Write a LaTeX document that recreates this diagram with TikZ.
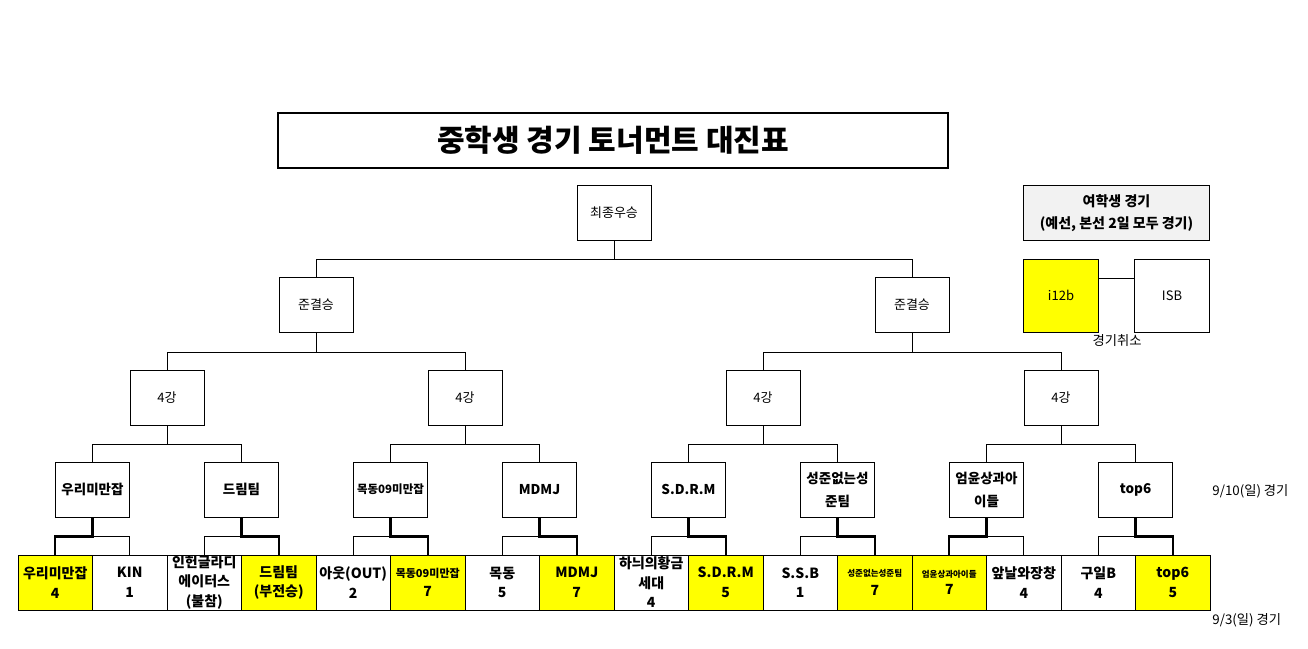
\documentclass[tikz,border=0pt]{standalone}
\usepackage{fontspec}
\setmainfont{Noto Sans CJK KR}
\definecolor{hl}{HTML}{FFFF00}
\definecolor{gbox}{HTML}{F2F2F2}
\begin{document}
\begin{tikzpicture}[x=1pt,y=-1pt,line width=0.8pt,
  box/.style={draw,minimum width=74pt,minimum height=55pt,inner sep=1pt,align=center,font=\fontsize{13}{17}\selectfont},
  rbox/.style={box,font=\bfseries\fontsize{13.5}{23}\selectfont},
  cell/.style={draw,minimum width=74.5pt,minimum height=55pt,inner sep=0pt,align=center,font=\bfseries\fontsize{14}{19.5}\selectfont},
  yel/.style={fill=hl},
  win/.style={line width=2.4pt},
  lbl/.style={inner sep=0pt,font=\fontsize{13.3}{15}\selectfont}]
\useasboundingbox (0,0) rectangle (1308,648);
% title
\node[draw,line width=2.4pt,minimum width=670pt,minimum height=55pt,inner sep=0pt,font=\bfseries\fontsize{30}{34}\selectfont] (title) at (613,140.5) {중학생 경기 토너먼트 대진표};
% final and semis
\node[box] (f) at (614,213) {최종우승};
\node[box] (s1) at (316,305) {준결승};
\node[box] (s2) at (912,305) {준결승};
% quarter
\node[box] (q1) at (167,397.5) {4강};
\node[box] (q2) at (465,397.5) {4강};
\node[box] (q3) at (763,397.5) {4강};
\node[box] (q4) at (1061,397.5) {4강};
% round of eight
\node[rbox] (r1) at (92.5,489.5) {우리미만잡};
\node[rbox] (r2) at (241.5,489.5) {드림팀};
\node[rbox,font=\bfseries\fontsize{11.5}{15}\selectfont] (r3) at (390.5,489.5) {목동09미만잡};
\node[rbox] (r4) at (539.5,489.5) {MDMJ};
\node[rbox] (r5) at (688.5,489.5) {S.D.R.M};
\node[rbox] (r6) at (837.5,489.5) {성준없는성\\준팀};
\node[rbox] (r7) at (986.5,489.5) {엄윤상과아\\이들};
\node[rbox] (r8) at (1135.5,489.5) {top6};
% first round cells
\node[cell,yel] (c1) at (55.25,582.5) {우리미만잡\\4};
\node[cell] (c2) at (129.75,582.5) {KIN\\1};
\node[cell] (c3) at (204.25,582.5) {인헌글라디\\에이터스\\(불참)};
\node[cell,yel] (c4) at (278.75,582.5) {드림팀\\(부전승)};
\node[cell] (c5) at (353.25,582.5) {아웃(OUT)\\2};
\node[cell,yel,font=\bfseries\fontsize{11}{19.5}\selectfont] (c6) at (427.75,582.5) {목동09미만잡\\\fontsize{14}{19.5}\selectfont 7};
\node[cell] (c7) at (502.25,582.5) {목동\\5};
\node[cell,yel] (c8) at (576.75,582.5) {MDMJ\\7};
\node[cell] (c9) at (651.25,582.5) {하늬의황금\\세대\\4};
\node[cell,yel] (c10) at (725.75,582.5) {S.D.R.M\\5};
\node[cell] (c11) at (800.25,582.5) {S.S.B\\1};
\node[cell,yel,font=\bfseries\fontsize{8.5}{19.5}\selectfont] (c12) at (874.75,582.5) {성준없는성준팀\\\fontsize{14}{19.5}\selectfont 7};
\node[cell,yel,font=\bfseries\fontsize{8.5}{17}\selectfont] (c13) at (949.25,582.5) {엄윤상과아이들\\\fontsize{14}{17}\selectfont 7};
\node[cell] (c14) at (1023.75,582.5) {앞날와장창\\4};
\node[cell] (c15) at (1098.25,582.5) {구일B\\4};
\node[cell,yel] (c16) at (1172.75,582.5) {top6\\5};
% bracket lines upper
\draw (f.south) -- ++(0,18) -| (s1.north);
\draw (f.south) ++(0,18) -| (s2.north);
\draw (s1.south) -- ++(0,19) -| (q1.north);
\draw (s1.south) ++(0,19) -| (q2.north);
\draw (s2.south) -- ++(0,19) -| (q3.north);
\draw (s2.south) ++(0,19) -| (q4.north);
\draw (q1.south) -- ++(0,19) -| (r1.north);
\draw (q1.south) ++(0,19) -| (r2.north);
\draw (q2.south) -- ++(0,19) -| (r3.north);
\draw (q2.south) ++(0,19) -| (r4.north);
\draw (q3.south) -- ++(0,19) -| (r5.north);
\draw (q3.south) ++(0,19) -| (r6.north);
\draw (q4.south) -- ++(0,19) -| (r7.north);
\draw (q4.south) ++(0,19) -| (r8.north);
% first round: losers thin, winners thick
\draw (r1.south) ++(0,19) -| (c2.north);
\draw (r2.south) ++(0,19) -| (c3.north);
\draw (r3.south) ++(0,19) -| (c5.north);
\draw (r4.south) ++(0,19) -| (c7.north);
\draw (r5.south) ++(0,19) -| (c9.north);
\draw (r6.south) ++(0,19) -| (c11.north);
\draw (r7.south) ++(0,19) -| (c14.north);
\draw (r8.south) ++(0,19) -| (c15.north);
\draw[win] (r1.south) -- ++(0,19) -| (c1.north);
\draw[win] (r2.south) -- ++(0,19) -| (c4.north);
\draw[win] (r3.south) -- ++(0,19) -| (c6.north);
\draw[win] (r4.south) -- ++(0,19) -| (c8.north);
\draw[win] (r5.south) -- ++(0,19) -| (c10.north);
\draw[win] (r6.south) -- ++(0,19) -| (c12.north);
\draw[win] (r7.south) -- ++(0,19) -| (c13.north);
\draw[win] (r8.south) -- ++(0,19) -| (c16.north);
% girls
\node[draw,fill=gbox,minimum width=186pt,minimum height=55pt,inner sep=0pt,align=center,font=\bfseries\fontsize{14}{22}\selectfont] (g) at (1116.5,213) {여학생 경기\\(예선, 본선 2일 모두 경기)};
\node[draw,fill=hl,minimum width=75pt,minimum height=73pt,inner sep=0pt,font=\fontsize{13}{15}\selectfont] (ga) at (1061,295.5) {i12b};
\node[draw,minimum width=75pt,minimum height=73pt,inner sep=0pt,font=\fontsize{13}{15}\selectfont] (gb) at (1172,295.5) {ISB};
\draw (ga.east |- 0,278) coordinate (gl) -- (gb.west |- 0,278) coordinate (gr);
\node[lbl] (gc) at (1117,341) {경기취소};
% dates
\node[lbl,anchor=west] (d1) at (1212,491) {9/10(일) 경기};
\node[lbl,anchor=west] (d2) at (1212,620) {9/3(일) 경기};
\end{tikzpicture}
\end{document}
